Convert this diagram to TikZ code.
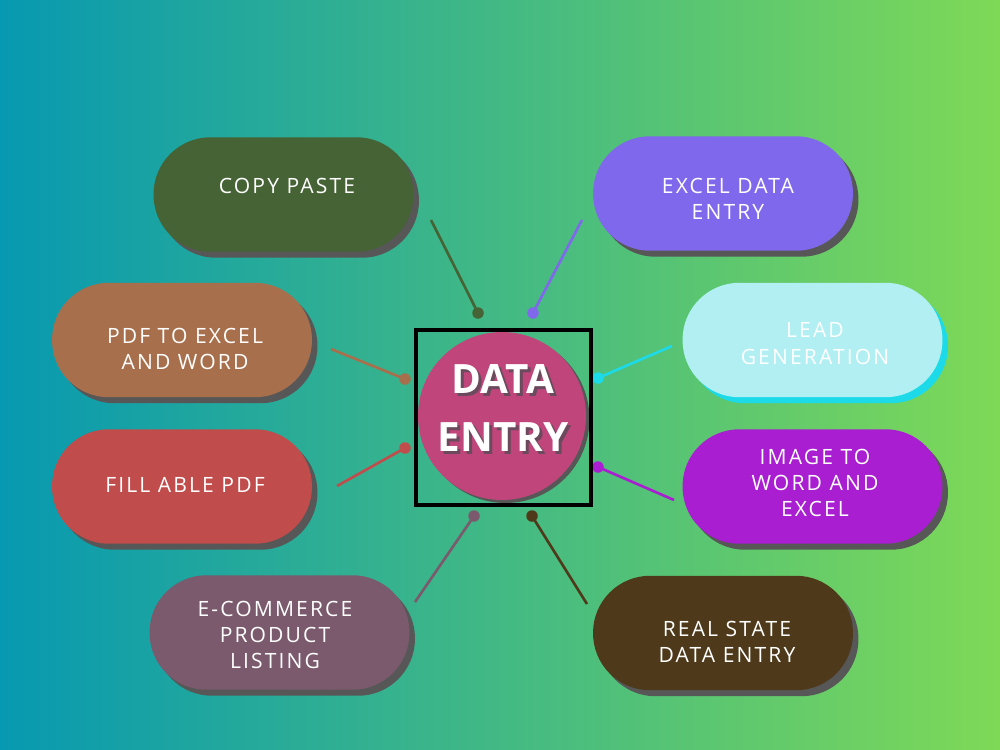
\documentclass[tikz,border=0pt]{standalone}
\usepackage{fontspec}
\setmainfont{Open Sans}
\newfontfamily\pillfont[LetterSpace=10]{Open Sans}
\newfontfamily\centerfont{Open Sans}
\usetikzlibrary{shadows}
\definecolor{bgl}{HTML}{0799B1}
\definecolor{bgr}{HTML}{7ED957}
\definecolor{shadowgray}{HTML}{575757}
\definecolor{copyc}{HTML}{456334}
\definecolor{excelc}{HTML}{8068EC}
\definecolor{pdfc}{HTML}{A86F4C}
\definecolor{leadc}{HTML}{B1EFF2}
\definecolor{leadsh}{HTML}{1CDAE8}
\definecolor{fillc}{HTML}{C14C4C}
\definecolor{imagec}{HTML}{A81ED0}
\definecolor{ecomc}{HTML}{7A5A6C}
\definecolor{realc}{HTML}{4E3A1A}
\definecolor{centerc}{HTML}{C0457A}
\definecolor{txtsh}{HTML}{6A4A5C}
\begin{document}
\begin{tikzpicture}[x=0.02cm,y=-0.02cm,
  pill/.style={rectangle, minimum width=5.2cm, minimum height=2.29cm,
    rounded corners=1.14cm, draw=none, inner sep=0pt},
  pshadow/.style={drop shadow={shadow xshift=0.11cm, shadow yshift=-0.12cm,
    fill=#1, opacity=1}},
  pshadow/.default=shadowgray,
  plabel/.style={text=white, font=\pillfont\fontsize{12}{15}\selectfont,
    align=center, inner sep=0pt},
  dot/.style={circle, inner sep=0pt, minimum size=0.23cm},
  conn/.style={line width=1.5pt},
]
\useasboundingbox (0,0) rectangle (1000,750);
\shade[left color=bgl, right color=bgr] (0,0) rectangle (1000,750);

% connectors
\coordinate (e1) at (431,220);
\coordinate (e2) at (582,220);
\coordinate (e3) at (331,349);
\coordinate (e4) at (672,346);
\coordinate (e5) at (337,486);
\coordinate (e6) at (674,500);
\coordinate (e7) at (415,602);
\coordinate (e8) at (587,604);
\node[dot, fill=copyc] (d1) at (478,313) {};
\node[dot, fill=excelc] (d2) at (533,313) {};
\node[dot, fill=pdfc] (d3) at (405,379) {};
\node[dot, fill=leadsh] (d4) at (598,378) {};
\node[dot, fill=fillc] (d5) at (405,448) {};
\node[dot, fill=imagec] (d6) at (598,467) {};
\node[dot, fill=ecomc] (d7) at (474,516) {};
\node[dot, fill=realc] (d8) at (532,516) {};
\draw[conn, copyc] (e1) -- (d1.center);
\draw[conn, excelc] (e2) -- (d2.center);
\draw[conn, pdfc] (e3) -- (d3.center);
\draw[conn, leadsh] (e4) -- (d4.center);
\draw[conn, fillc] (e5) -- (d5.center);
\draw[conn, imagec] (e6) -- (d6.center);
\draw[conn, ecomc] (e7) -- (d7.center);
\draw[conn, realc] (e8) -- (d8.center);

% pills
\node[pill, pshadow, fill=copyc] (p1) at (283.5,194.5) {};
\node[pill, pshadow, fill=excelc] (p2) at (723,193.5) {};
\node[pill, pshadow, fill=pdfc] (p3) at (182,340) {};
\node[pill, pshadow=leadsh, fill=leadc] (p4) at (812.5,340) {};
\node[pill, pshadow, fill=fillc] (p5) at (182,486.5) {};
\node[pill, pshadow, fill=imagec] (p6) at (812.5,486.5) {};
\node[pill, pshadow, fill=ecomc] (p7) at (279.5,632.5) {};
\node[pill, pshadow, fill=realc] (p8) at (723,633) {};

\node[plabel] (l1) at (287,186) {COPY PASTE};
\node[plabel] (l2) at (728,199) {EXCEL DATA\\ENTRY};
\node[plabel] (l3) at (185,349) {PDF TO EXCEL\\AND WORD};
\node[plabel] (l4) at (815,343.5) {LEAD\\GENERATION};
\node[plabel] (l5) at (185,485) {FILL ABLE PDF};
\node[plabel] (l6) at (815,483) {IMAGE TO\\WORD AND\\EXCEL};
\node[plabel] (l7) at (275,635) {E-COMMERCE\\PRODUCT\\LISTING};
\node[plabel] (l8) at (727,642) {REAL STATE\\DATA ENTRY};

% center
\node[circle, minimum size=3.36cm, inner sep=0pt, fill=centerc,
  drop shadow={shadow xshift=0.07cm, shadow yshift=-0.06cm, fill=shadowgray, opacity=1}]
  (hub) at (502,416) {};
\node[draw=black, line width=1.9pt, minimum size=3.5cm, inner sep=0pt] (frame) at (503.5,417.5) {};
\node[text=txtsh, font=\centerfont\bfseries\fontsize{23}{33.5}\selectfont, align=center, inner sep=0pt]
  (hubsh) at (506,411) {DATA\\ENTRY};
\node[text=white, font=\centerfont\bfseries\fontsize{23}{33.5}\selectfont, align=center, inner sep=0pt]
  (hubtxt) at (503,408) {DATA\\ENTRY};
\end{tikzpicture}
\end{document}
